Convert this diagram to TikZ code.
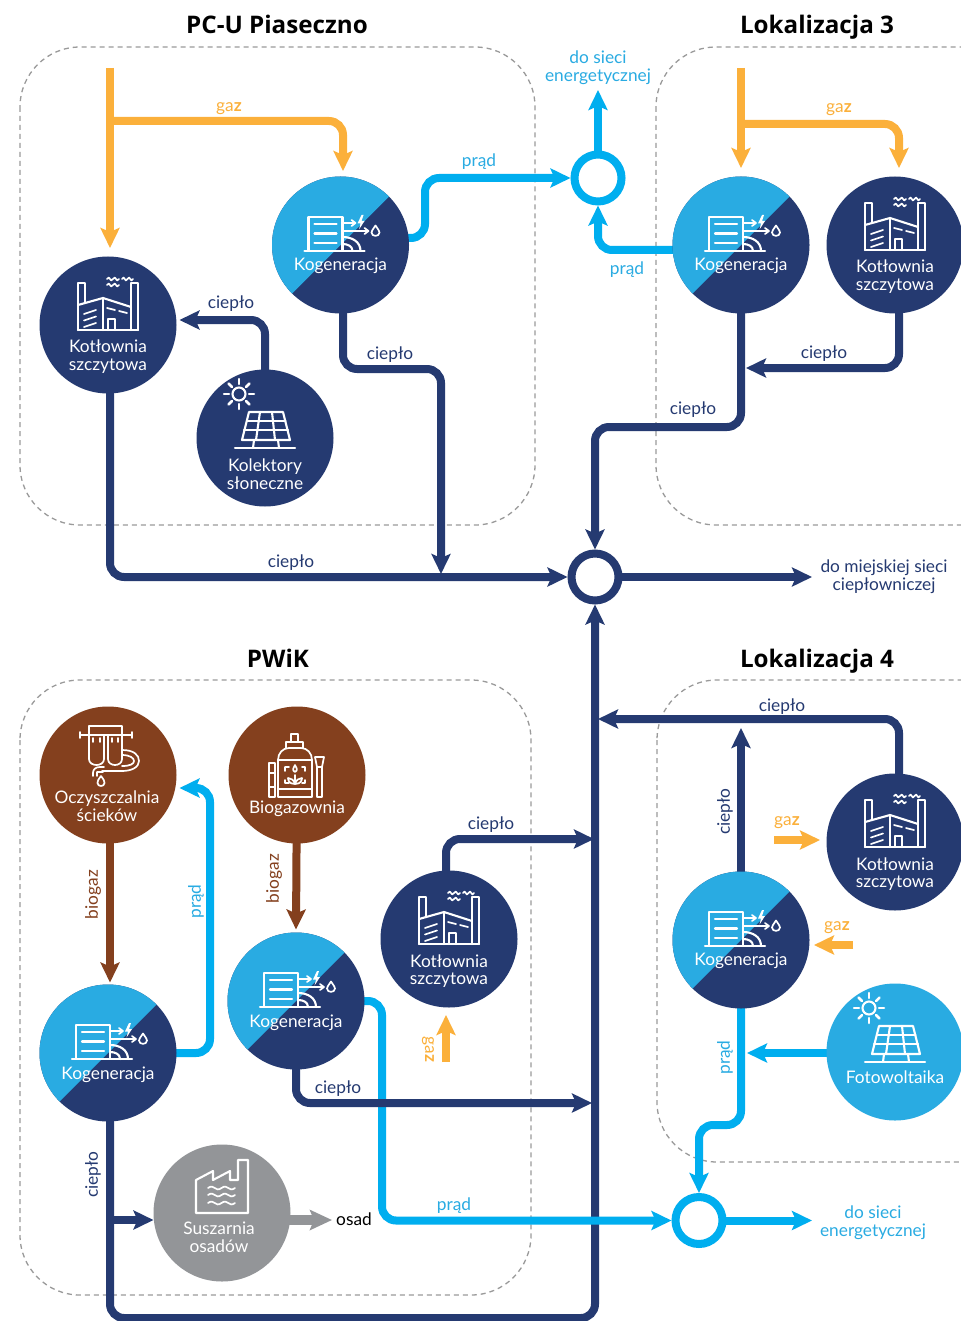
\documentclass[tikz,border=0pt]{standalone}
\usepackage{fontspec}
\setmainfont{Lato}
\newfontfamily\titlefont{Open Sans}
\usetikzlibrary{arrows.meta,backgrounds}
\definecolor{navy}{HTML}{253A71}
\definecolor{sky}{HTML}{29ABE2}
\definecolor{wire}{HTML}{00AEEF}
\definecolor{amber}{HTML}{FBB03B}
\definecolor{rust}{HTML}{84401E}
\definecolor{ash}{HTML}{939598}
\definecolor{dashgray}{HTML}{9A9A9A}
\tikzset{
  station/.style={circle,minimum size=137pt,inner sep=0pt,outer sep=0pt,fill=#1},
  hub/.style={circle,minimum size=47pt,inner sep=0pt,fill=white,draw=#1,line width=8pt},
  captext/.style={text=white,font=\fontsize{17.3}{17.5}\selectfont,align=center,inner sep=0pt,yshift=-1.5pt},
  ico/.style={draw=white,line width=2.1pt,line cap=round,line join=round},
  zone/.style={draw=dashgray,line width=1.3pt,dash pattern=on 5pt off 4pt,rounded corners=60pt},
  flow/.style={line width=8pt,rounded corners=14pt,-{Stealth[length=20pt,width=19pt,inset=4pt]}},
  heat/.style={flow,draw=navy},
  power/.style={flow,draw=wire},
  fuel/.style={flow,draw=amber},
  bio/.style={flow,draw=rust},
  lab/.style={font=\fontsize{17.3}{17.5}\selectfont,align=center,inner sep=0pt,yshift=-1.5pt},
  heatlab/.style={lab,text=navy},
  powerlab/.style={lab,text=sky},
  fuellab/.style={lab,text=amber},
  biolab/.style={lab,text=rust},
  heading/.style={font=\titlefont\bfseries\fontsize{24.2}{26}\selectfont,text=black,inner sep=0pt,anchor=base},
}
\newcommand\wavy[3]{\draw[ico,line width=1.7pt] (#1,#2) .. controls +(#3*0.5,-5) and +(-#3*0.5,5) .. ++(#3,0) .. controls +(#3*0.5,-5) and +(-#3*0.5,5) .. ++(#3,0);}
\newcommand\icoCog[1]{\begin{scope}[shift={(#1)}]
  \draw[ico] (-32,6) rectangle (2,-28);
  \draw[ico] (-26,-21) -- (-4,-21) (-26,-11.5) -- (-4,-11.5) (-26,-2) -- (-4,-2);
  \draw[ico] (-36,6) -- (24,6);
  \draw[ico] (2,-8) .. controls (12,-8) and (20,-3) .. (20,6);
  \draw[ico] (2,-1) .. controls (7,-1) and (12,1) .. (12,6);
  \draw[ico,line width=1.7pt] (2,-22) -- (15,-22) (11,-25) -- (15,-22) -- (11,-19);
  \draw[ico,line width=1.7pt] (2,-14) -- (28,-14) (24,-17) -- (28,-14) -- (24,-11);
  \fill[white] (21,-30) -- (17,-21.5) -- (20,-21.5) -- (18.5,-15.5) -- (24,-24) -- (21,-24) -- (23,-30) -- cycle;
  \draw[ico,line width=1.7pt] (35,-19.5) .. controls (32,-15) and (31,-14) .. (31,-12.5) .. controls (31,-8) and (39,-8) .. (39,-12.5) .. controls (39,-14) and (38,-15) .. (35,-19.5) -- cycle;
\end{scope}}
\newcommand\icoBoiler[1]{\begin{scope}[shift={(#1)}]
  \draw[ico] (-30,5) -- (-30,-42) -- (-23,-42) -- (-23,-22);
  \draw[ico] (-30,-20) -- (-5,-27) -- (23,-18);
  \draw[ico] (23,5) -- (23,-42) -- (30,-42) -- (30,5);
  \draw[ico] (-30,5) -- (30,5);
  \draw[ico] (-5,-27) -- (-5,5);
  \draw[ico] (0,5) -- (0,-6) -- (7,-6) -- (7,5);
  \draw[ico,line width=1.7pt] (-24,-11) -- (-12,-15) (-24,-4.5) -- (-12,-8.5) (-24,2) -- (-12,-2);
  \draw[ico,line width=1.7pt] (-1,-17) -- (7,-15) (11,-14) -- (19,-12);
  \wavy{-1}{-46}{6}\wavy{-1}{-40}{6}\wavy{14}{-46}{5.5}
\end{scope}}
\newcommand\icoSolar[1]{\begin{scope}[shift={(#1)}]
  \draw[ico] (-26,-44) circle (6.5);
  \foreach \a/\b/\c/\d in {-26/-59/-26/-54,-26/-34/-26/-29,-41/-44/-36/-44,-16/-44/-11/-44,-36.6/-54.6/-33/-51,-19/-37/-15.4/-33.4,-36.6/-33.4/-33/-37,-19/-51/-15.4/-54.6}
    \draw[ico,line width=2.5pt] (\a,\b) -- (\c,\d);
  \draw[ico] (-16,-26) -- (18,-26) -- (25,2) -- (-23,2) -- cycle;
  \draw[ico] (-18,-17) -- (20.5,-17) (-21,-8) -- (23,-8);
  \draw[ico] (-5,-26) -- (-9,2) (7,-26) -- (10,2);
  \draw[ico] (-30,10) -- (30,10);
  \draw[ico] (-11,2) -- (-12,10) (13,2) -- (14,10);
\end{scope}}
\newcommand\icoFilter[1]{\begin{scope}[shift={(#1)},ico/.append style={line width=1.7pt}]
  \draw[ico] (-28,-40) -- (24,-40) (-28,-43) -- (-28,-37) (24,-43) -- (24,-37);
  \draw[ico] (-19,-40) -- (-19,-49) -- (14,-49) -- (14,-40);
  \draw[ico] (-19,-40) -- (-19,-16) .. controls (-19,-8) and (-4,-8) .. (-4,-16) -- (-4,-40);
  \draw[ico] (0,-40) -- (0,-16) .. controls (0,-8) and (14,-8) .. (14,-16) -- (14,-40);
  \draw[ico] (-15,-37) -- (-15,-33) (-8,-37) -- (-8,-33) (4,-37) -- (4,-33) (10,-37) -- (10,-33);
  \draw[ico] (14,-25) .. controls (26,-25) and (31,-20) .. (31,-14) .. controls (31,-8) and (24,-4) .. (14,-4) -- (-6,-4) ;
  \draw[ico] (14,-20) .. controls (22,-20) and (26,-17) .. (26,-14) .. controls (26,-11) and (22,-9) .. (14,-9);
  \draw[ico] (-15,-2) .. controls (-15,-6) and (-12,-8) .. (-8,-8) -- (-4,-8) (-15,-2) -- (-15,1) (-11,1) -- (-11,-3) -- (-5,-3);
  \draw[ico] (-7,1) .. controls (-10,5) and (-10.5,6) .. (-10.5,8) .. controls (-10.5,12) and (-3.5,12) .. (-3.5,8) .. controls (-3.5,6) and (-4,5) .. (-7,1);
\end{scope}}
\newcommand\icoBiogas[1]{\begin{scope}[shift={(#1)},ico/.append style={line width=1.7pt}]
  \draw[ico] (-6,-41) rectangle (1,-33);
  \draw[ico] (-11,-27) -- (-11,-33) -- (6,-33) -- (6,-27);
  \draw[ico] (-19,-15) .. controls (-19,-22) and (-14,-27) .. (-8,-27) -- (4,-27) .. controls (10,-27) and (15,-22) .. (15,-15) -- (15,22) -- (-19,22) -- cycle;
  \draw[ico] (-19,-15) -- (15,-15) (-19,14) -- (15,14);
  \draw[ico] (-28,-12) -- (-28,22) -- (-22,22) -- (-22,-12) -- cycle (-28,-2) -- (-22,-2) (-28,12) -- (-22,12);
  \draw[ico] (18,-18) -- (27,-18) -- (25,-8) -- (25,22) -- (20,22) -- (20,-8) -- cycle (20,-8) -- (25,-8);
  \draw[ico] (-12,-8) -- (-12,-4) (-12,-8) -- (-8,-8) (8,-8) -- (5,-8) (8,-8) -- (8,-4) (-12,8) -- (-12,5) (-12,8) -- (-8,8) (8,8) -- (5,8) (8,8) -- (8,5);
  \draw[ico] (-2,-10) .. controls (-4,-6) and (-5,-5) .. (-2,-3) .. controls (1,-5) and (0,-6) .. (-2,-10);
  \draw[ico] (-2,0) -- (-2,9) (-2,9) .. controls (-8,9) and (-9,5) .. (-9,3) .. controls (-6,3) and (-3,5) .. (-2,9) (-2,9) .. controls (4,9) and (5,5) .. (5,3) .. controls (2,3) and (-1,5) .. (-2,9);
\end{scope}}
\newcommand\icoDryer[1]{\begin{scope}[shift={(#1)}]
  \draw[ico] (-26,0) -- (-26,-33) -- (-9,-42) -- (-9,-33) -- (8,-42) -- (8,-33) -- (16,-33) -- (16,-53) -- (26,-53) -- (26,0) -- cycle;
  \wavy{-14}{-25}{13.5}\wavy{-14}{-18}{13.5}\wavy{-14}{-10}{13.5}
\end{scope}}
\newcommand\cogen[2]{\begin{scope}[shift={(#2)}]
  \node[station=navy] (#1) at (0,0) {};
  \begin{scope}\clip (0,0) circle (68.5);
    \fill[sky] (-90,90) -- (90,-90) -- (-90,-90) -- cycle;
  \end{scope}
\end{scope}\icoCog{#2}}
\newcommand\gaz{ga{\bfseries z}}
\begin{document}
\begin{tikzpicture}[x=1pt,y=-1pt]
\useasboundingbox (0,0) rectangle (960,1321);
% titles
\node[heading] (t1) at (277,34) {PC-U Piaseczno};
\node[heading] (t2) at (817,34) {Lokalizacja 3};
\node[heading] (t3) at (278,667) {PWiK};
\node[heading] (t4) at (817,667) {Lokalizacja 4};
% stations
\node[station=navy] (kotA) at (108,325) {};
\cogen{cogA}{340.5,245}
\node[station=navy] (solA) at (265,438) {};
\cogen{cogB}{741,245}
\node[station=navy] (kotB) at (895,245) {};
\node[station=rust] (oczy) at (108,775) {};
\node[station=rust] (biog) at (297,775) {};
\cogen{cogC}{296,1001}
\cogen{cogD}{108,1053}
\node[station=navy] (kotC) at (449,939) {};
\node[station=ash] (susz) at (222,1213) {};
\cogen{cogE}{741,940}
\node[station=navy] (kotD) at (895,842) {};
\node[station=sky] (foto) at (895,1052) {};
% hubs
\node[hub=wire] (hubP) at (598,178) {};
\node[hub=navy] (hubH) at (595,577) {};
\node[hub=wire] (hubQ) at (699,1220.5) {};
% icons
\icoBoiler{108,325}\icoBoiler{895,245}\icoBoiler{449,939}\icoBoiler{895,842}
\icoSolar{265,438}\icoSolar{895,1052}
\icoFilter{108,775}\icoBiogas{297,775}\icoDryer{222,1213}
% captions
\node[captext] (c1) at (108,355) {Kotłownia\\szczytowa};
\node[captext] (c2) at (340.5,264) {Kogeneracja};
\node[captext] (c3) at (265,472.5) {Kolektory\\słoneczne};
\node[captext] (c4) at (741,264) {Kogeneracja};
\node[captext] (c5) at (895,275) {Kotłownia\\szczytowa};
\node[captext] (c6) at (107,804.5) {Oczyszczalnia\\ścieków};
\node[captext] (c7) at (297,807) {Biogazownia};
\node[captext] (c8) at (296,1021) {Kogeneracja};
\node[captext] (c9) at (108,1073) {Kogeneracja};
\node[captext] (c10) at (449,969.5) {Kotłownia\\szczytowa};
\node[captext] (c11) at (219,1235.5) {Suszarnia\\osadów};
\node[captext] (c12) at (741,959) {Kogeneracja};
\node[captext] (c13) at (895,872.5) {Kotłownia\\szczytowa};
\node[captext] (c14) at (895,1076) {Fotowoltaika};
% connectors
\begin{scope}[on background layer]
\fill[white] (0,0) rectangle (960,1321);
\draw[zone] (20,47) rectangle (535,525);
\draw[zone] (656,47) rectangle (1040,525);
\draw[zone] (20,680) rectangle (531,1295);
\draw[zone] (657,680) rectangle (1040,1162);
\coordinate (gasA) at (110,68);
\coordinate (gasB) at (741,68);
\coordinate (gasAtip) at (110,248);
\coordinate (gasCogAtip) at (343,171);
\coordinate (gasCogBtip) at (741,168);
\coordinate (gasKotBtip) at (899,168);
\coordinate (gasKotCtail) at (446,1062);
\coordinate (gasKotCtip) at (446,1015);
\coordinate (gasKotDtail) at (774,840);
\coordinate (gasKotDtip) at (820,840);
\coordinate (gasCogEtail) at (853,945);
\coordinate (gasCogEtip) at (814,945);
\draw[fuel] (gasA) -- (gasAtip);
\draw[fuel] (110,121) -- (343,121) -- (gasCogAtip);
\draw[fuel] (gasB) -- (gasCogBtip);
\draw[fuel] (741,124) -- (899,124) -- (gasKotBtip);
\draw[power] (cogA.center |- 425,238) -- (425,238) -- (425,178) -- (hubP.west);
\draw[power] (hubP.center) -- (598,90);
\draw[power] (cogB.center |- 598,250) -- (598,250) -- (hubP.south);
\draw[heat] ([xshift=2.5pt]cogA.center) -- (343,369) -- (441,369) -- (441,574);
\draw[heat] ([xshift=2pt]kotA.center) -- (110,577) -- (hubH.west);
\draw[heat] (solA.center) -- (265,320) -- ([xshift=3pt]kotA.east |- 265,320);
\draw[heat] (cogB.center) -- (741,427) -- (595,427) -- (hubH.north);
\draw[heat] ([xshift=4pt]kotB.center) -- (899,368) -- (746,368);
\draw[heat] (hubH.center) -- (812,577);
\draw[heat] ([xshift=2pt]cogD.center) -- (110,1318) -- (595,1318) -- (hubH.south);
\draw[heat] (110,1220) -- (susz.west |- 110,1220);
\draw[flow,draw=ash,line width=10pt,-{Stealth[length=22pt,width=20pt,inset=4pt]}] (susz.center |- 290,1220) -- (332,1220);
\draw[bio] ([xshift=2pt]oczy.center) -- ([xshift=2pt,yshift=2pt]cogD.north);
\draw[bio] (biog.center) -- ([yshift=3pt]cogC.north);
\draw[power] (cogD.center) -- (210,1053) -- (210,788) -- ([xshift=3pt]oczy.east |- 210,788);
\draw[power] (cogC.center) -- (382,1001) -- (382,1220.5) -- (hubQ.west);
\draw[heat] (cogC.center) -- (296,1103) -- (592,1103);
\draw[heat] (446,939) -- (446,839) -- (594,839);
\draw[heat] ([xshift=4pt]kotD.center) -- (899,719) -- (598,719);
\draw[heat] (cogE.center) -- (741,728);
\draw[power] (foto.center |- 747,1053) -- (747,1053);
\draw[power] (cogE.center) -- (741,1125) -- (699,1125) -- (hubQ.north);
\draw[power] (hubQ.center) -- (812,1220.5);
\draw[fuel] (gasKotDtail) -- (gasKotDtip);
\draw[fuel] (gasCogEtail) -- (gasCogEtip);
\draw[fuel] (gasKotCtail) -- (gasKotCtip);
\end{scope}
% labels
\node[fuellab] (l1) at (229,107) {\gaz};
\node[fuellab] (l2) at (839,108) {\gaz};
\node[fuellab] (l3) at (787,821) {\gaz};
\node[fuellab] (l4) at (837,926) {\gaz};
\node[fuellab,rotate=-90] (l5) at (428,1048) {\gaz};
\node[powerlab] (l6) at (479,160) {prąd};
\node[powerlab] (l7) at (627,268) {prąd};
\node[powerlab] (l8) at (598,66) {do sieci\\energetycznej};
\node[powerlab,rotate=90] (l9) at (196,900) {prąd};
\node[powerlab,rotate=90] (l10) at (725,1056) {prąd};
\node[powerlab] (l11) at (454,1204) {prąd};
\node[powerlab] (l12) at (873,1221) {do sieci\\energetycznej};
\node[heatlab] (l13) at (231,302) {ciepło};
\node[heatlab] (l14) at (390,353) {ciepło};
\node[heatlab] (l15) at (824,352) {ciepło};
\node[heatlab] (l16) at (693,408) {ciepło};
\node[heatlab] (l17) at (291,561) {ciepło};
\node[heatlab] (l18) at (884,575) {do miejskiej sieci\\ciepłowniczej};
\node[heatlab] (l19) at (782,705) {ciepło};
\node[heatlab,rotate=90] (l20) at (725,810) {ciepło};
\node[heatlab] (l21) at (491,823) {ciepło};
\node[heatlab] (l22) at (338,1087) {ciepło};
\node[heatlab,rotate=90] (l23) at (93,1173) {ciepło};
\node[biolab,rotate=90] (l24) at (93,893) {biogaz};
\node[biolab,rotate=90] (l25) at (274,877) {biogaz};
\node[lab] (l26) at (354,1218) {osad};
\end{tikzpicture}
\end{document}
